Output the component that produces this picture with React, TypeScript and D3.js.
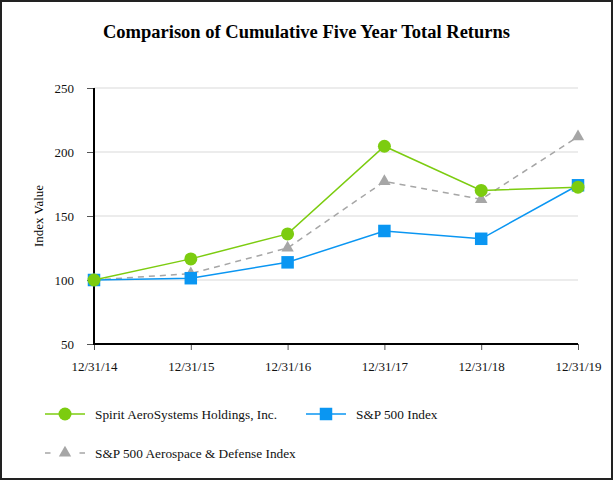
import React, { useEffect, useRef } from 'react';
import * as d3 from 'd3';

const dates = ['12/31/14', '12/31/15', '12/31/16', '12/31/17', '12/31/18', '12/31/19'];
const spirit = [100, 116.5, 136, 204.5, 170, 172.5];
const sp500 = [100, 101.4, 113.8, 138.3, 132.2, 174];
const aeroDefense = [100, 105, 125, 177, 163, 212];
const yTicks = [50, 100, 150, 200, 250];

const seriesNames = ['Spirit AeroSystems Holdings, Inc.', 'S&P 500 Index', 'S&P 500 Aerospace & Defense Index'];

interface Series {
    name: string,
    values: number[],
    colour: string,
    marker: string,
    dash: string | null
}

const WIDTH = 613;
const HEIGHT = 480;
const FONT = '"Times New Roman", "Liberation Serif", serif';

export default function App() {
    const canvas = useRef<SVGSVGElement>(null);

    useEffect(() => {
        const svg = d3.select(canvas.current);
        svg.selectAll('*').remove();

        const series: Series[] = [
            { name: seriesNames[2], values: aeroDefense, colour: '#a6a6a6', marker: 'triangle', dash: '6,5' },
            { name: seriesNames[1], values: sp500, colour: '#0a96f2', marker: 'square', dash: null },
            { name: seriesNames[0], values: spirit, colour: '#7ccc10', marker: 'circle', dash: null }
        ];

        const margin = { top: 88, left: 94, right: 35, bottom: 136 };

        const xScale = d3.scalePoint<string>()
            .domain(dates)
            .range([margin.left, WIDTH - margin.right]);

        const yScale = d3.scaleLinear()
            .domain([50, 250])
            .range([HEIGHT - margin.bottom, margin.top]);

        // outer frame
        svg.append('rect')
            .attr('x', 1)
            .attr('y', 1)
            .attr('width', WIDTH - 2)
            .attr('height', HEIGHT - 2)
            .attr('fill', '#fff')
            .attr('stroke', '#222')
            .attr('stroke-width', 2);

        svg.append('text')
            .attr('x', WIDTH / 2)
            .attr('y', 38)
            .attr('text-anchor', 'middle')
            .attr('font-family', FONT)
            .attr('font-weight', 'bold')
            .attr('font-size', 18.5)
            .text('Comparison of Cumulative Five Year Total Returns');

        // gridlines
        svg.append('g')
            .selectAll('line')
            .data(yTicks.slice(1))
            .enter().append('line')
            .attr('x1', margin.left)
            .attr('x2', WIDTH - margin.right)
            .attr('y1', (d: number) => yScale(d))
            .attr('y2', (d: number) => yScale(d))
            .attr('stroke', '#e6e6e6')
            .attr('stroke-width', 1.5);

        const yAxis = svg.append('g')
            .attr('transform', 'translate(' + margin.left + ',0)')
            .call(d3.axisLeft(yScale).tickValues(yTicks).tickSize(7).tickPadding(13));
        yAxis.select('.domain').remove();
        yAxis.selectAll('line').attr('stroke', '#555');

        const xAxis = svg.append('g')
            .attr('transform', 'translate(0,' + yScale(50) + ')')
            .call(d3.axisBottom(xScale).tickSize(6).tickPadding(12));
        xAxis.select('.domain').remove();
        xAxis.selectAll('line').attr('stroke', '#555');

        svg.selectAll('.tick text')
            .attr('font-family', FONT)
            .attr('font-size', 13)
            .attr('fill', '#111');

        // axis lines
        svg.append('line')
            .attr('x1', margin.left)
            .attr('x2', margin.left)
            .attr('y1', yScale(250))
            .attr('y2', yScale(50) + 1)
            .attr('stroke', '#000')
            .attr('stroke-width', 2);
        svg.append('line')
            .attr('x1', margin.left)
            .attr('x2', WIDTH - margin.right)
            .attr('y1', yScale(50))
            .attr('y2', yScale(50))
            .attr('stroke', '#000')
            .attr('stroke-width', 2);

        svg.append('text')
            .attr('transform', 'translate(43,' + yScale(150) + ') rotate(-90)')
            .attr('text-anchor', 'middle')
            .attr('font-family', FONT)
            .attr('font-size', 13)
            .text('Index Value');

        const symbolFor = (m: string) => {
            if (m === 'circle') return d3.symbol().type(d3.symbolCircle).size(Math.PI * 6.5 * 6.5);
            if (m === 'square') return d3.symbol().type(d3.symbolSquare).size(12.5 * 12.5);
            return d3.symbol().type(d3.symbolTriangle).size(66);
        };

        const line = d3.line<number>()
            .x((d: number, i: number) => xScale(dates[i]) as number)
            .y((d: number) => yScale(d));

        series.forEach((s: Series) => {
            const g = svg.append('g');
            g.append('path')
                .datum(s.values)
                .attr('d', line)
                .attr('fill', 'none')
                .attr('stroke', s.colour)
                .attr('stroke-width', 1.5)
                .attr('stroke-dasharray', s.dash);
            g.selectAll('path.marker')
                .data(s.values)
                .enter().append('path')
                .attr('class', 'marker')
                .attr('d', symbolFor(s.marker))
                .attr('transform', (d: number, i: number) =>
                    'translate(' + [xScale(dates[i]), yScale(d)] + ')')
                .attr('fill', s.colour);
        });

        // legend
        const legendItems = [
            { s: series[2], x: 45, y: 414 },
            { s: series[1], x: 306, y: 414 },
            { s: series[0], x: 45, y: 453 }
        ];
        legendItems.forEach((item) => {
            const g = svg.append('g')
                .attr('transform', 'translate(' + [item.x, item.y] + ')');
            g.append('line')
                .attr('x1', 0)
                .attr('x2', 40)
                .attr('y1', 0)
                .attr('y2', 0)
                .attr('stroke', item.s.colour)
                .attr('stroke-width', 1.5)
                .attr('stroke-dasharray', item.s.dash ? '5.5,29,5.5' : null);
            g.append('path')
                .attr('d', symbolFor(item.s.marker))
                .attr('transform', 'translate(20,0)')
                .attr('fill', item.s.colour);
            g.append('text')
                .attr('x', 50)
                .attr('y', 0)
                .attr('dy', '0.35em')
                .attr('font-family', FONT)
                .attr('font-size', 13.3)
                .attr('fill', '#111')
                .text(item.s.name);
        });
    }, []);

    return (
        <div>
            <svg
                ref={canvas}
                width={WIDTH}
                height={HEIGHT}
                style={{ position: 'absolute', left: 0, top: 0, display: 'block' }}
            ></svg>
        </div>
    );
}
